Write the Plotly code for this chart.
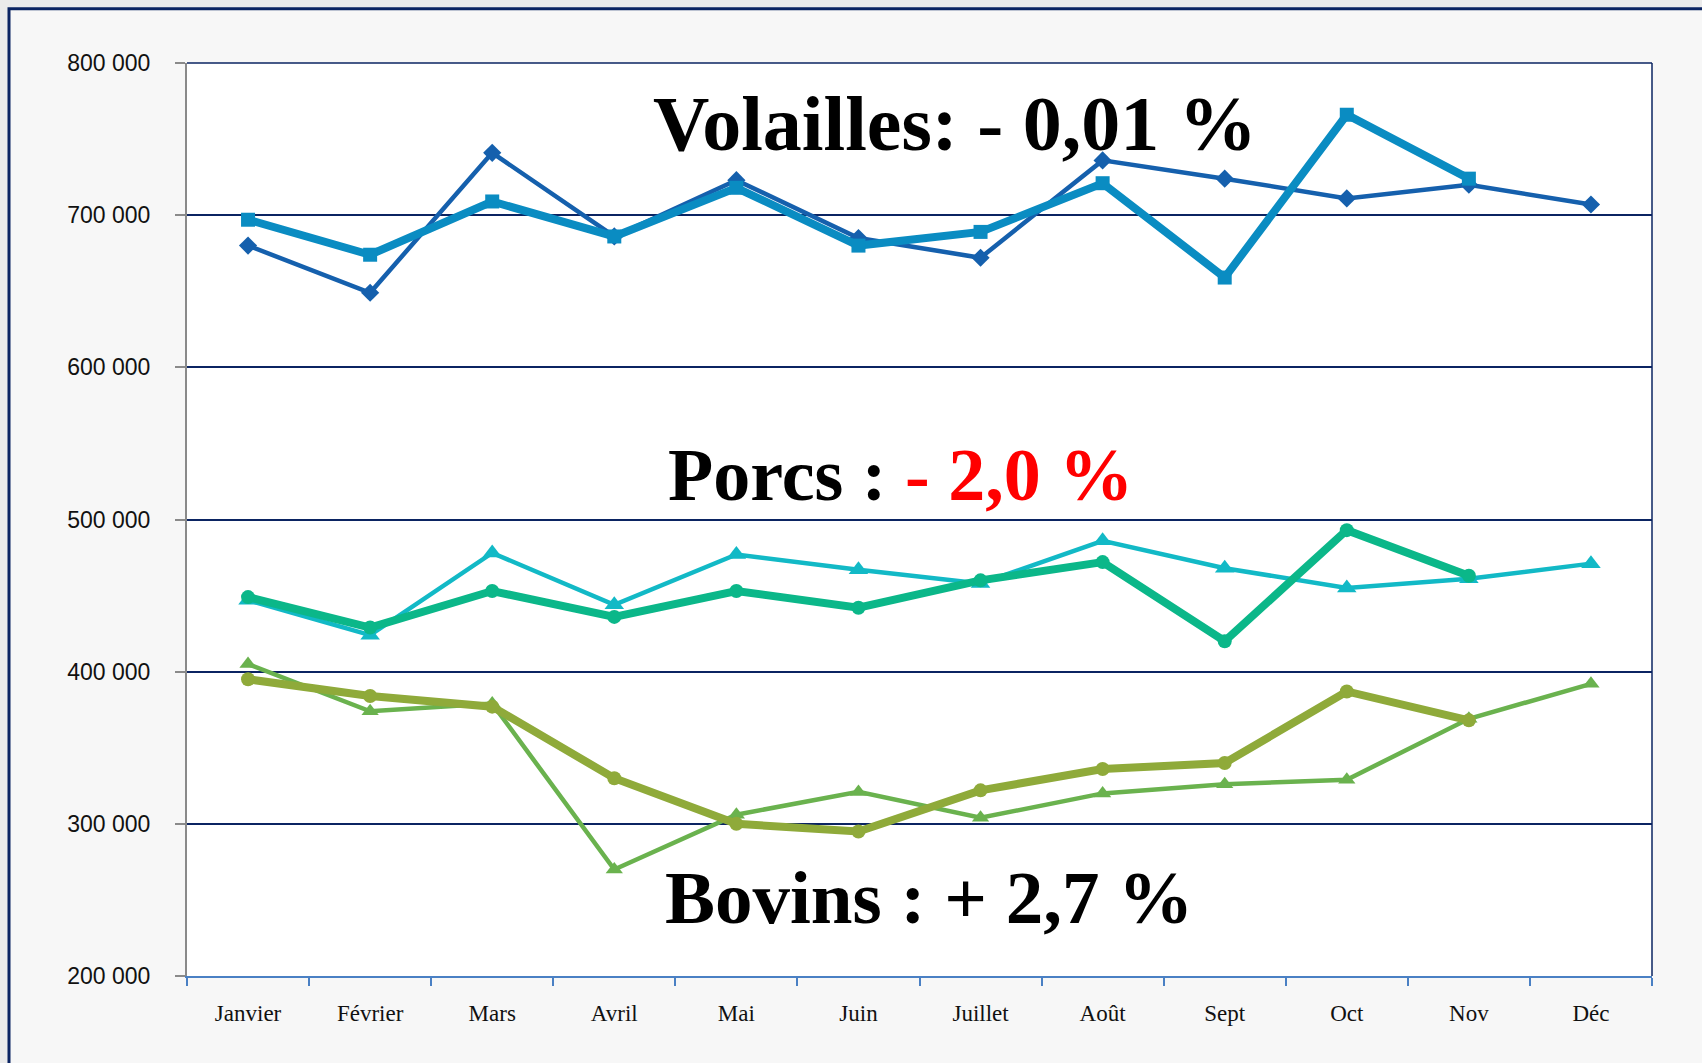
import plotly.graph_objects as go

months = ["Janvier", "Février", "Mars", "Avril", "Mai", "Juin", "Juillet",
          "Août", "Sept", "Oct", "Nov", "Déc"]

volailles_a = [680000, 649000, 741000, 686000, 723000, 685000, 672000,
               736000, 724000, 711000, 720000, 707000]
volailles_b = [697000, 674000, 709000, 686000, 718000, 680000, 689000,
               721000, 659000, 766000, 724000]

porcs_a = [447000, 424000, 478000, 444000, 477000, 467000, 458000,
           486000, 468000, 455000, 461000, 471000]
porcs_b = [449000, 429000, 453000, 436000, 453000, 442000, 460000,
           472000, 420000, 493000, 463000]

bovins_a = [405000, 374000, 379000, 270000, 306000, 321000, 304000,
            320000, 326000, 329000, 369000, 392000]
bovins_b = [395000, 384000, 377000, 330000, 300000, 295000, 322000,
            336000, 340000, 387000, 368000]

y_ticks = [200000, 300000, 400000, 500000, 600000, 700000, 800000]
y_tick_labels = ["200 000", "300 000", "400 000", "500 000", "600 000",
                 "700 000", "800 000"]

fig = go.Figure()

def add(vals, color, width, symbol, size, name):
    fig.add_trace(go.Scatter(
        x=months[:len(vals)], y=vals, mode="lines+markers", name=name,
        line=dict(color=color, width=width),
        marker=dict(symbol=symbol, size=size, color=color),
        showlegend=False,
    ))

add(volailles_a, "#1560ad", 4.5, "diamond", 14, "Volailles N-1")
add(volailles_b, "#0a8cc2", 8, "square", 14, "Volailles N")
add(porcs_a, "#12b9c6", 4.5, "triangle-up", 17, "Porcs N-1")
add(porcs_b, "#0bb789", 8, "circle", 14, "Porcs N")
add(bovins_a, "#6ab24e", 4.5, "triangle-up", 15, "Bovins N-1")
add(bovins_b, "#8faa3a", 8, "circle", 14, "Bovins N")

serif = "Liberation Serif, Times New Roman, serif"

fig.add_annotation(x=0.524, y=0.934, xref="paper", yref="paper",
                   xanchor="center", yanchor="middle",
                   text="<b>Volailles: - 0,01 %</b>", showarrow=False,
                   font=dict(family=serif, size=78, color="black"))
fig.add_annotation(x=0.487, y=0.549, xref="paper", yref="paper",
                   xanchor="center", yanchor="middle",
                   text="<b>Porcs : <span style='color:#ff0000'>- 2,0 %</span></b>",
                   showarrow=False,
                   font=dict(family=serif, size=74, color="black"))
fig.add_annotation(x=0.5065, y=0.0865, xref="paper", yref="paper",
                   xanchor="center", yanchor="middle",
                   text="<b>Bovins : + 2,7 %</b>", showarrow=False,
                   font=dict(family=serif, size=75, color="black"))

shapes = [
    # outer frame
    dict(type="rect", xref="paper", yref="paper", x0=-0.1215, x1=1.06,
         y0=-0.12, y1=1.0595, line=dict(color="#0b2462", width=3),
         fillcolor="#f7f7f7", layer="below"),
    # plot area white background
    dict(type="rect", xref="paper", yref="paper", x0=0, x1=1, y0=0, y1=1,
         line=dict(width=0), fillcolor="white", layer="below"),
    # top and right borders
    dict(type="line", xref="paper", yref="paper", x0=0, x1=1, y0=1, y1=1,
         line=dict(color="#0b2462", width=1.5)),
    dict(type="line", xref="paper", yref="paper", x0=1, x1=1, y0=0, y1=1,
         line=dict(color="#0b2462", width=1.5)),
]

fig.update_layout(
    width=1702, height=1063,
    margin=dict(l=187, r=50, t=63, b=87),
    paper_bgcolor="#ebebeb",
    plot_bgcolor="rgba(0,0,0,0)",
    shapes=shapes,
    xaxis=dict(
        type="category", categoryorder="array", categoryarray=months,
        range=[-0.5, 11.5], showgrid=False, zeroline=False,
        showline=True, linecolor="#4a80c4", linewidth=2,
        ticks="outside", tickson="boundaries", ticklen=8,
        tickcolor="#4a80c4", tickwidth=1.5,
        tickfont=dict(family=serif, size=23, color="#111"),
        ticklabelstandoff=15,
    ),
    yaxis=dict(
        range=[200000, 800000], tickvals=y_ticks, ticktext=y_tick_labels,
        showgrid=True, gridcolor="#0b2462", gridwidth=1.5,
        zeroline=False, showline=True, linecolor="#8a8a8a", linewidth=2,
        ticks="outside", ticklen=10, tickcolor="#8a8a8a", tickwidth=1.5,
        tickfont=dict(family="Liberation Sans, Arial, sans-serif", size=23,
                      color="#111"),
        ticklabelstandoff=20,
    ),
)

fig.write_html(
    "out.html",
    config={"displayModeBar": False},
    post_script="document.body.style.margin='0px';"
                "document.body.style.background='#ebebeb';"
                "document.body.style.overflow='hidden';",
)
